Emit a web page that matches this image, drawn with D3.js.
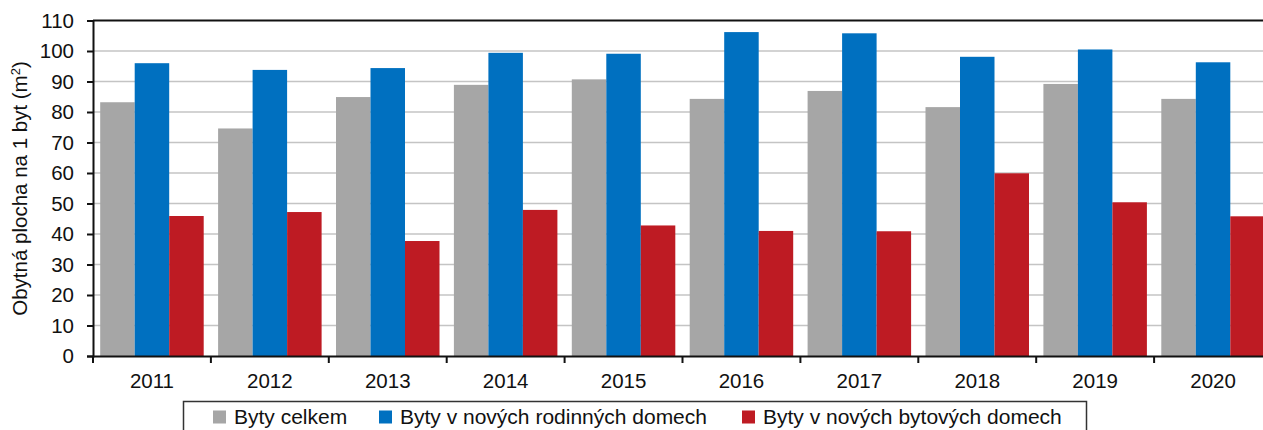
<!DOCTYPE html>
<html>
<head>
<meta charset="utf-8">
<script src="https://cdn.jsdelivr.net/npm/d3@7"></script>
<style>
  html, body { margin: 0; padding: 0; background: #fff; overflow: hidden; }
  svg { display: block; font-family: "Liberation Sans", Arial, sans-serif; }
</style>
</head>
<body>
<svg width="1263" height="430"></svg>
<script>

const years   = ["2011", "2012", "2013", "2014", "2015", "2016", "2017", "2018", "2019", "2020"];
const series  = ["Byty celkem", "Byty v nových rodinných domech", "Byty v nových bytových domech"];
const celkem  = [83.2, 74.6, 84.9, 88.9, 90.7, 84.3, 86.9, 81.6, 89.2, 84.3];
const rodinne = [96.0, 93.8, 94.4, 99.4, 99.1, 106.2, 105.8, 98.1, 100.5, 96.3];
const bytove  = [45.9, 47.2, 37.7, 47.9, 42.8, 41.0, 40.9, 59.9, 50.4, 45.8];
const y_ticks = [0, 10, 20, 30, 40, 50, 60, 70, 80, 90, 100, 110];

const colors  = ["#a6a6a6", "#0070c0", "#be1b23"];

const svg         = d3.select("svg");
const plot_left   = 93;
const plot_right  = 1272;   // plot runs past the window edge, like the original
const plot_top    = 20.5;
const plot_bottom = 356;

const values = [celkem, rodinne, bytove];
const rows = years.map((yr, i) => ({ year: yr, vals: values.map(v => v[i]) }));

const x0 = d3.scaleBand().domain(years).range([plot_left, plot_right]);
const x1 = d3.scaleBand().domain(d3.range(series.length))
  .range([7.2, x0.bandwidth() - 7.2]);
const y  = d3.scaleLinear().domain([0, 110]).range([plot_bottom, plot_top]);

// grid lines
svg.append("g")
  .selectAll("line")
  .data(y_ticks.slice(1, -1))
  .enter().append("line")
  .attr("x1", plot_left).attr("x2", plot_right)
  .attr("y1", d => y(d)).attr("y2", d => y(d))
  .attr("stroke", "#c4c4c4")
  .attr("stroke-width", 1.5);

// bars
svg.append("g")
  .selectAll("g")
  .data(rows)
  .enter().append("g")
  .attr("transform", d => `translate(${x0(d.year)},0)`)
  .selectAll("rect")
  .data(d => d.vals.map((v, k) => ({ k: k, v: v })))
  .enter().append("rect")
  .attr("x", d => x1(d.k))
  .attr("width", x1.bandwidth())
  .attr("y", d => y(d.v))
  .attr("height", d => y(0) - y(d.v))
  .attr("fill", d => colors[d.k]);

// top border
svg.append("line")
  .attr("x1", plot_left).attr("x2", plot_right)
  .attr("y1", plot_top).attr("y2", plot_top)
  .attr("stroke", "#111").attr("stroke-width", 2);

// y axis
const yAxis = svg.append("g")
  .attr("transform", `translate(${plot_left},0)`)
  .call(d3.axisLeft(y).tickValues(y_ticks).tickSize(6).tickPadding(13));
yAxis.select(".domain").attr("stroke", "#111").attr("stroke-width", 2);
yAxis.selectAll(".tick line").attr("stroke", "#111").attr("stroke-width", 2);
yAxis.selectAll(".tick text")
  .attr("font-size", 20.5).attr("fill", "#111")
  .attr("font-family", "Liberation Sans, Arial, sans-serif");

// x axis
const xAxis = svg.append("g")
  .attr("transform", `translate(0,${plot_bottom})`)
  .call(d3.axisBottom(x0).tickSize(0).tickPadding(17));
xAxis.select(".domain").attr("stroke", "#111").attr("stroke-width", 2);
xAxis.selectAll(".tick text")
  .attr("font-size", 20.5).attr("fill", "#111")
  .attr("font-family", "Liberation Sans, Arial, sans-serif");

// category boundary ticks
svg.append("g")
  .selectAll("line")
  .data(years)
  .enter().append("line")
  .attr("x1", d => x0(d)).attr("x2", d => x0(d))
  .attr("y1", plot_bottom).attr("y2", plot_bottom + 7)
  .attr("stroke", "#111").attr("stroke-width", 2);

// y title
const title = svg.append("text")
  .attr("transform", "translate(27,188.5) rotate(-90)")
  .attr("text-anchor", "middle")
  .attr("font-size", 20.5)
  .attr("fill", "#111");
title.append("tspan").text("Obytná plocha na 1 byt (m");
title.append("tspan").attr("baseline-shift", "super").attr("font-size", 13).text("2");
title.append("tspan").text(")");

// legend
const legend = svg.append("g");
legend.append("rect")
  .attr("x", 183.5).attr("y", 401.5)
  .attr("width", 903).attr("height", 40)
  .attr("fill", "#fff")
  .attr("stroke", "#333").attr("stroke-width", 1.5);

const legend_x = [213, 379, 742];
const item = legend.selectAll("g.item")
  .data(series)
  .enter().append("g")
  .attr("class", "item")
  .attr("transform", (d, i) => `translate(${legend_x[i]},0)`);
item.append("rect")
  .attr("x", 0).attr("y", 410.5)
  .attr("width", 13).attr("height", 13)
  .attr("fill", (d, i) => colors[i]);
item.append("text")
  .attr("x", 21).attr("y", 424)
  .attr("font-size", 21)
  .attr("fill", "#111")
  .text(d => d);

</script>
</body>
</html>
